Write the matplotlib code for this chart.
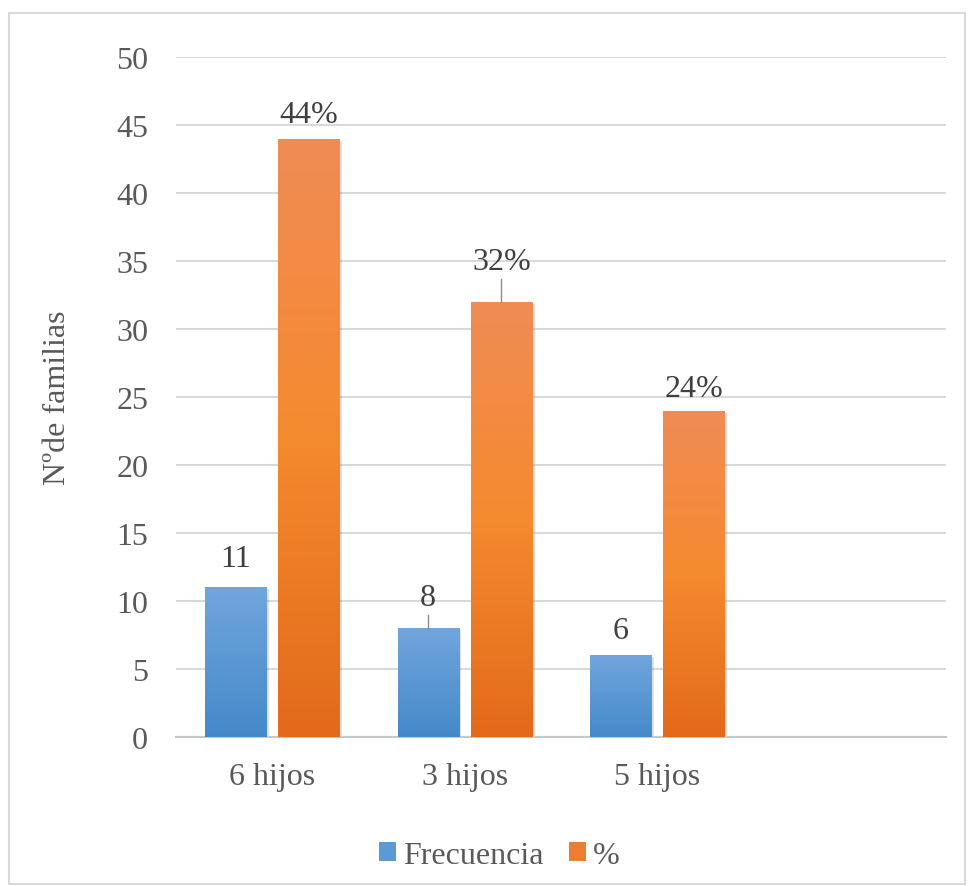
import numpy as np
import matplotlib.pyplot as plt
import matplotlib.patheffects as pe
from matplotlib.patches import Rectangle
from matplotlib.colors import LinearSegmentedColormap

categorias = ['6 hijos', '3 hijos', '5 hijos', '']
frecuencia = [11, 8, 6, None]
porcentaje = [44, 32, 24, None]
etiq_frec = ['11', '8', '6']
etiq_pct = ['44%', '32%', '24%']

plt.rcParams['font.family'] = ['Liberation Serif', 'DejaVu Serif']
gris = '#595959'

fig = plt.figure(figsize=(9.7, 8.87), dpi=100)
ax = fig.add_axes([0.1814, 0.168, 0.794, 0.7666])

x = np.arange(len(categorias))
n = 3
ancho = 0.317
desp = 0.19
b1 = ax.bar(x[:n] - desp, frecuencia[:n], ancho, color='#5b9bd5', label='Frecuencia', zorder=2)
b2 = ax.bar(x[:n] + desp, porcentaje[:n], ancho, color='#ed7d31', label='%', zorder=2)

# degradado vertical en cada barra
cm_azul = LinearSegmentedColormap.from_list('az', ['#4589c9', '#70a6dc'])
cm_nar = LinearSegmentedColormap.from_list('na', ['#e26a1a', '#f58a2e', '#f08c55'])
grad = np.linspace(0, 1, 256).reshape(-1, 1)
for barras, cmap in ((b1, cm_azul), (b2, cm_nar)):
    for b in barras:
        x0, y0 = b.get_x(), b.get_y()
        w, h = b.get_width(), b.get_height()
        im = ax.imshow(grad, cmap=cmap, origin='lower', aspect='auto',
                       extent=(x0, x0 + w, y0, y0 + h), zorder=3)
        im.set_clip_path(b)

ax.set_xlim(-0.5, 3.5)
ax.set_ylim(0, 50)
ax.set_yticks(np.arange(0, 51, 5))
ax.set_xticks(x[:n])
ax.set_xticklabels(categorias[:n])
ax.tick_params(axis='both', length=0, labelsize=23, colors=gris)
ax.tick_params(axis='y', pad=20)
ax.tick_params(axis='x', pad=18)
ax.grid(axis='y', color='#d9d9d9', linewidth=1.5, zorder=0)
for s in ['top', 'right', 'left']:
    ax.spines[s].set_visible(False)
ax.spines['bottom'].set_color('#c8c8c8')
ax.spines['bottom'].set_linewidth(1.5)
ax.set_ylabel('Nºde familias', fontsize=23, color=gris)
ax.yaxis.set_label_coords(-0.135, 0.5)

# etiquetas de datos (desplazamiento de la línea base sobre la barra)
desplaz_f = [1.55, 1.7, 1.3]
desplaz_p = [1.25, 2.43, 1.1]
linea_f = [0, 0.95, 0]
linea_p = [0, 1.7, 0]
for i in range(n):
    xf = x[i] - desp
    ax.text(xf, frecuencia[i] + desplaz_f[i], etiq_frec[i], ha='center', va='baseline',
            fontsize=23, color='#404040')
    if linea_f[i]:
        ax.plot([xf, xf], [frecuencia[i], frecuencia[i] + linea_f[i]], color='#8c8c8c', lw=1, zorder=4)
    xp = x[i] + desp
    ax.text(xp, porcentaje[i] + desplaz_p[i], etiq_pct[i], ha='center', va='baseline',
            fontsize=23, color='#404040')
    if linea_p[i]:
        ax.plot([xp, xp], [porcentaje[i], porcentaje[i] + linea_p[i]], color='#8c8c8c', lw=1, zorder=4)

ax.legend(loc='upper center', bbox_to_anchor=(0.42, -0.11), ncol=2, frameon=False,
          fontsize=23, labelcolor=gris, handlelength=0.53, handleheight=0.53,
          handletextpad=0.22, columnspacing=0.8)

# sombra suave de las barras (después de la leyenda)
sombra = [pe.SimplePatchShadow(offset=(2, -1.5), shadow_rgbFace='#000000', alpha=0.12), pe.Normal()]
for b in list(b1) + list(b2):
    b.set_path_effects(sombra)

fig.patches.append(Rectangle((9 / 970, 2 / 887), 956 / 970, 871 / 887, transform=fig.transFigure,
                             fill=False, edgecolor='#d9d9d9', linewidth=1.5))

fig.savefig('out.png', dpi=100)
